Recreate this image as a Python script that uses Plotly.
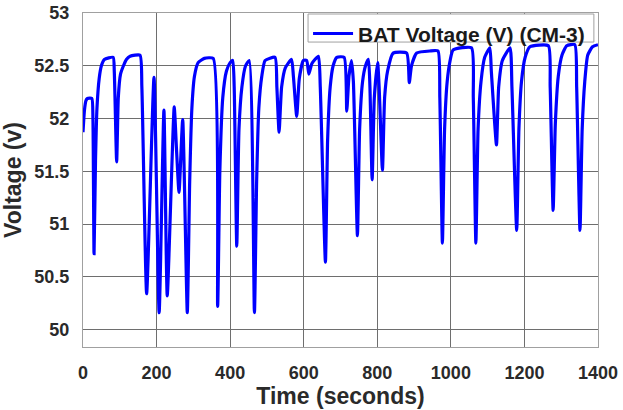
import plotly.graph_objects as go

time_s = [0, 4, 8, 12, 24, 27, 30, 34, 38, 44, 50, 58, 82, 85, 91.5, 96, 102, 110, 118, 128, 155,
          160, 173, 193, 207, 220, 229, 248, 254, 261, 271, 283.5, 290, 296, 303, 313, 330, 354,
          366, 372, 380, 390, 400, 407, 411, 418, 424, 432, 442, 452, 466, 472, 478, 486, 495,
          522, 527, 533, 540, 550, 567, 572, 581, 588, 599, 608, 614, 622, 640, 645, 659, 665,
          672, 680, 690, 710, 717, 723, 730, 735, 746, 752, 760, 768, 776, 780, 786, 792, 801,
          805, 814, 820, 828, 843, 880, 887, 893, 907, 943, 965, 970, 977, 983, 990, 998, 1006,
          1056, 1061, 1068, 1074, 1082, 1092, 1106, 1110, 1124, 1130, 1140, 1161, 1166, 1179,
          1185, 1192, 1202, 1215, 1265, 1270, 1278, 1284, 1292, 1302, 1315, 1337, 1342, 1351,
          1357, 1364, 1372, 1385, 1400]
voltage = [51.87, 52.08, 52.17, 52.19, 52.19, 52.0, 50.72, 51.6, 52.1, 52.38, 52.5, 52.56, 52.58,
           52.45, 51.59, 52.2, 52.42, 52.5, 52.56, 52.59, 52.6,
           52.3, 50.34, 52.39, 50.16, 52.08, 50.32, 52.11, 51.72, 51.30, 51.99, 50.16, 51.4,
           52.1, 52.4, 52.53, 52.57, 52.57,
           50.22, 51.5, 52.2, 52.45, 52.53, 52.55, 52.3, 50.79, 51.9, 52.3, 52.5, 52.55, 50.16,
           51.4, 52.1, 52.4, 52.55,
           52.58, 52.3, 51.87, 52.3, 52.48, 52.56, 52.4, 52.02, 52.38, 52.55, 52.55, 52.42,
           52.52, 52.59, 52.3, 50.64, 51.8,
           52.3, 52.5, 52.58, 52.58, 52.07, 52.4, 52.55, 52.35, 50.89, 51.9, 52.35, 52.5, 52.56,
           52.3, 51.42, 52.2, 52.53,
           52.3, 51.51, 52.2, 52.45, 52.62, 52.62, 52.34, 52.5, 52.62, 52.64, 52.64, 52.2,
           50.82, 51.9, 52.35, 52.55, 52.65,
           52.67, 52.2, 50.82, 51.9, 52.35, 52.58, 52.67, 52.45, 51.75, 52.3, 52.55, 52.67,
           52.3, 50.94,
           51.9, 52.35, 52.58, 52.68, 52.69, 52.3, 51.13, 51.95, 52.4, 52.6, 52.69, 52.7, 52.3,
           50.94,
           51.9, 52.35, 52.6, 52.68, 52.7]

x_ticks = [0, 200, 400, 600, 800, 1000, 1200, 1400]
y_ticks = [50, 50.5, 51, 51.5, 52, 52.5, 53]
y_tick_labels = ["50", "50.5", "51", "51.5", "52", "52.5", "53"]

FONT = "Arial, 'Liberation Sans', sans-serif"

fig = go.Figure()
fig.add_trace(go.Scatter(
    x=time_s, y=voltage, mode="lines",
    name="<b>BAT Voltage (V) (CM-3)</b>",
    line=dict(color="#0000FF", width=3.2, shape="spline", smoothing=0.5),
))

# legend frame (white box with grey border, like the MATLAB legend)
fig.add_shape(type="rect", xref="paper", yref="paper",
              x0=0.437, x1=0.992, y0=0.913, y1=0.997,
              fillcolor="white", line=dict(color="#a0a0a0", width=1), layer="above")

fig.update_layout(
    width=623, height=410,
    margin=dict(l=83, r=25, t=13, b=63, autoexpand=False),
    paper_bgcolor="white", plot_bgcolor="white",
    font=dict(family=FONT, color="#1a1a1a"),
    showlegend=True,
    legend=dict(
        x=0.437, y=0.999, xanchor="left", yanchor="top",
        bgcolor="rgba(0,0,0,0)", borderwidth=0,
        font=dict(size=21, family=FONT, color="#1a1a1a"),
        itemwidth=40, tracegroupgap=0,
    ),
    xaxis=dict(
        range=[0, 1400], tickvals=x_ticks, automargin=False,
        ticktext=[f"<b>{v}</b>" for v in x_ticks],
        tickfont=dict(size=18, family=FONT, color="#2a2a2a"),
        ticks="outside", ticklen=9, tickcolor="rgba(0,0,0,0)",
        showgrid=True, gridcolor="#6e6e6e", gridwidth=1,
        showline=True, linecolor="#a0a0a0", linewidth=1, mirror=True,
        zeroline=False,
        title=dict(text="<b>Time (seconds)</b>", font=dict(size=23, family=FONT, color="#2a2a2a"),
                   standoff=3),
    ),
    yaxis=dict(
        range=[49.835, 53], tickvals=y_ticks, automargin=False,
        ticktext=[f"<b>{t}</b>" for t in y_tick_labels],
        tickfont=dict(size=18, family=FONT, color="#2a2a2a"),
        ticks="outside", ticklen=9, tickcolor="rgba(0,0,0,0)",
        showgrid=True, gridcolor="#6e6e6e", gridwidth=1,
        showline=True, linecolor="#a0a0a0", linewidth=1, mirror=True,
        zeroline=False,
        title=dict(text="<b>Voltage (v)</b>", font=dict(size=23, family=FONT, color="#2a2a2a"),
                   standoff=6),
    ),
)

fig.write_html("out.html")
